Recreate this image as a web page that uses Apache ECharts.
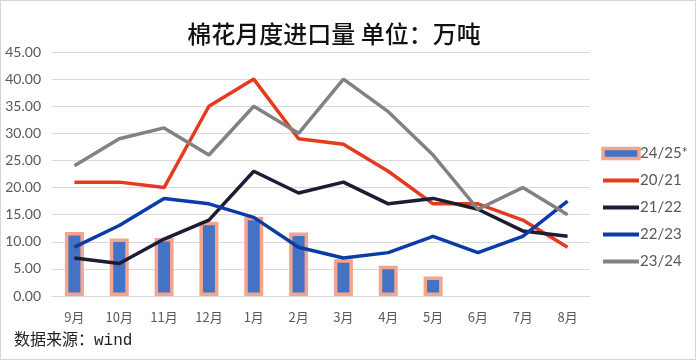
<!DOCTYPE html>
<html><head><meta charset="utf-8">
<script src="https://cdn.jsdelivr.net/npm/echarts@6/dist/echarts.min.js"></script>
<style>html,body{margin:0;padding:0;background:#fff}#c{width:696px;height:360px;box-sizing:border-box;border:1px solid #d4d4d4}</style>
</head><body><div id="c"></div>
<script>
const categories = ['9月','10月','11月','12月','1月','2月','3月','4月','5月','6月','7月','8月'];
const s2425 = [11.8, 10.6, 10.7, 13.7, 14.6, 11.7, 6.8, 5.6, 3.6, null, null, null];
const s2021 = [21, 21, 20, 35, 40, 29, 28, 23, 17, 17, 14, 9];
const s2122 = [7, 6, 10.5, 14, 23, 19, 21, 17, 18, 16, 12, 11];
const s2223 = [9, 13, 18, 17, 14.5, 9, 7, 8, 11, 8, 11, 17.5];
const s2324 = [24, 29, 31, 26, 35, 30, 40, 34, 26, 16, 20, 15];
const yTicks = {min: 0, max: 45, interval: 5};

const chart = echarts.init(document.getElementById('c'));
const lineSeries = (name, data, color) => ({
  name, type: 'line', data, showSymbol: false, symbol: 'none', z: 3,
  lineStyle: {color, width: 3.5}, itemStyle: {color}
});
const hiddenDot = {color: 'rgba(0,0,0,0)', borderWidth: 0, borderColor: 'rgba(0,0,0,0)'};
const legLine = {width: 4};
chart.setOption({
  animation: false,
  title: {
    text: '棉花月度进口量 单位：万吨', left: 328, top: 16, textAlign: 'center',
    textStyle: {fontFamily: 'Noto Sans CJK SC', fontSize: 24, fontWeight: 500, color: '#111'}
  },
  grid: {left: 51, right: 105, top: 51, bottom: 63},
  legend: {
    orient: 'vertical', left: 595, top: 140, itemWidth: 36, itemHeight: 10, itemGap: 12,
    textStyle: {fontFamily: 'Lato', fontSize: 15, color: '#595959', padding: [0,0,0,-4]},
    data: [
      {name: '24/25*', icon: 'rect', itemStyle: {color: '#4472C4', borderColor: '#F4A58C', borderWidth: 3.5}},
      {name: '20/21', itemStyle: hiddenDot, lineStyle: legLine},
      {name: '21/22', itemStyle: hiddenDot, lineStyle: legLine},
      {name: '22/23', itemStyle: hiddenDot, lineStyle: legLine},
      {name: '23/24', itemStyle: hiddenDot, lineStyle: legLine}
    ]
  },
  xAxis: {
    type: 'category', data: categories,
    axisLine: {lineStyle: {color: '#D9D9D9', width: 1}}, axisTick: {show: false},
    axisLabel: {fontFamily: 'Noto Sans CJK SC', fontSize: 13, color: '#595959', margin: 15}
  },
  yAxis: {
    type: 'value', min: yTicks.min, max: yTicks.max, interval: yTicks.interval,
    axisLine: {show: false}, axisTick: {show: false},
    splitLine: {lineStyle: {color: '#D9D9D9', width: 1}},
    axisLabel: {fontFamily: 'Lato', fontSize: 14, color: '#595959', margin: 11,
      formatter: v => v.toFixed(2)}
  },
  graphic: [{
    type: 'text', left: 13, top: 332,
    style: {text: '数据来源：wind', fontFamily: '"Liberation Mono", "Noto Sans CJK SC"', fontSize: 16, fill: '#222'}
  }],
  series: [
    {name: '24/25*', type: 'bar', data: s2425, barWidth: 19, z: 2,
      itemStyle: {color: '#4472C4', borderColor: '#F4A58C', borderWidth: 3.5}},
    lineSeries('20/21', s2021, '#E63A1E'),
    lineSeries('21/22', s2122, '#1C1C34'),
    lineSeries('22/23', s2223, '#0A3CA8'),
    lineSeries('23/24', s2324, '#828282')
  ]
});
</script></body></html>
